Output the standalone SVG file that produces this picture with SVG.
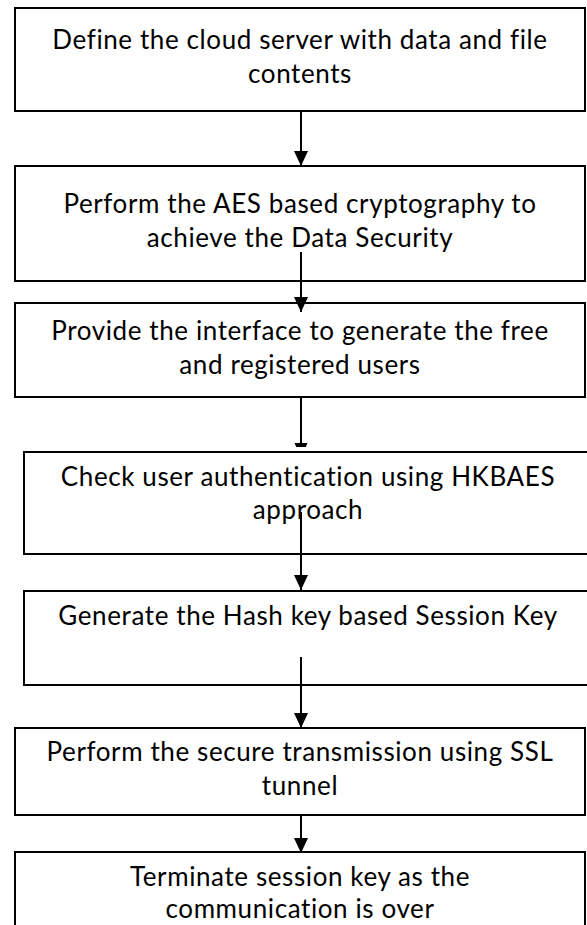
<svg xmlns="http://www.w3.org/2000/svg" width="587" height="925" viewBox="0 0 587 925">
<style>
  .box { fill: #ffffff; stroke: #000000; stroke-width: 2; }
  .lbl { font-family: Lato, "Open Sans", "Liberation Sans", sans-serif; font-size: 26px; letter-spacing: 0.6px; fill: #000000; text-anchor: middle; }
  .conn { stroke: #000000; stroke-width: 2; fill: none; }
</style>
<defs>
  <marker id="arrow" markerUnits="userSpaceOnUse" markerWidth="16" markerHeight="14" refX="15" refY="7" orient="auto" viewBox="0 0 16 14">
    <path d="M0,0 L15,7 L0,14 Z" fill="#000000"/>
  </marker>
</defs>
<rect x="0" y="0" width="587" height="925" fill="#ffffff"/>

<g id="node1">
  <rect class="box" x="15" y="8" width="570" height="103"/>
  <text class="lbl" x="300" y="49">Define the cloud server with data and file</text>
  <text class="lbl" x="300" y="83">contents</text>
</g>
<g id="node2">
  <rect class="box" x="15" y="166" width="570" height="115"/>
  <text class="lbl" x="300" y="213">Perform the AES based cryptography to</text>
  <text class="lbl" x="300" y="247">achieve the Data Security</text>
</g>
<g id="node3">
  <rect class="box" x="15" y="303" width="570" height="94"/>
  <text class="lbl" x="300" y="340">Provide the interface to generate the free</text>
  <text class="lbl" x="300" y="374">and registered users</text>
</g>
<g id="node4">
  <rect class="box" x="24" y="452" width="570" height="102"/>
  <text class="lbl" x="308" y="486">Check user authentication using HKBAES</text>
  <text class="lbl" x="308" y="519">approach</text>
</g>
<g id="node5">
  <rect class="box" x="24" y="591" width="570" height="94"/>
  <text class="lbl" x="308" y="625">Generate the Hash key based Session Key</text>
</g>
<g id="node6">
  <rect class="box" x="15" y="728" width="570" height="87"/>
  <text class="lbl" x="300" y="761">Perform the secure transmission using SSL</text>
  <text class="lbl" x="300" y="795">tunnel</text>
</g>
<g id="node7">
  <rect class="box" x="15" y="852" width="570" height="90"/>
  <text class="lbl" x="300" y="886">Terminate session key as the</text>
  <text class="lbl" x="300" y="918">communication is over</text>
</g>

<g id="connectors">
  <line class="conn" x1="301" y1="111" x2="301" y2="166" marker-end="url(#arrow)"/>
  <line class="conn" x1="301" y1="252" x2="301" y2="312" marker-end="url(#arrow)"/>
  <line class="conn" x1="301" y1="397" x2="301" y2="444"/>
  <polygon points="294.5,443 307.5,443 305.8,447 296.2,447" fill="#000000"/>
  <line class="conn" x1="301" y1="512" x2="301" y2="590" marker-end="url(#arrow)"/>
  <line class="conn" x1="301" y1="657" x2="301" y2="728" marker-end="url(#arrow)"/>
  <line class="conn" x1="301" y1="815" x2="301" y2="853" marker-end="url(#arrow)"/>
</g>
</svg>
